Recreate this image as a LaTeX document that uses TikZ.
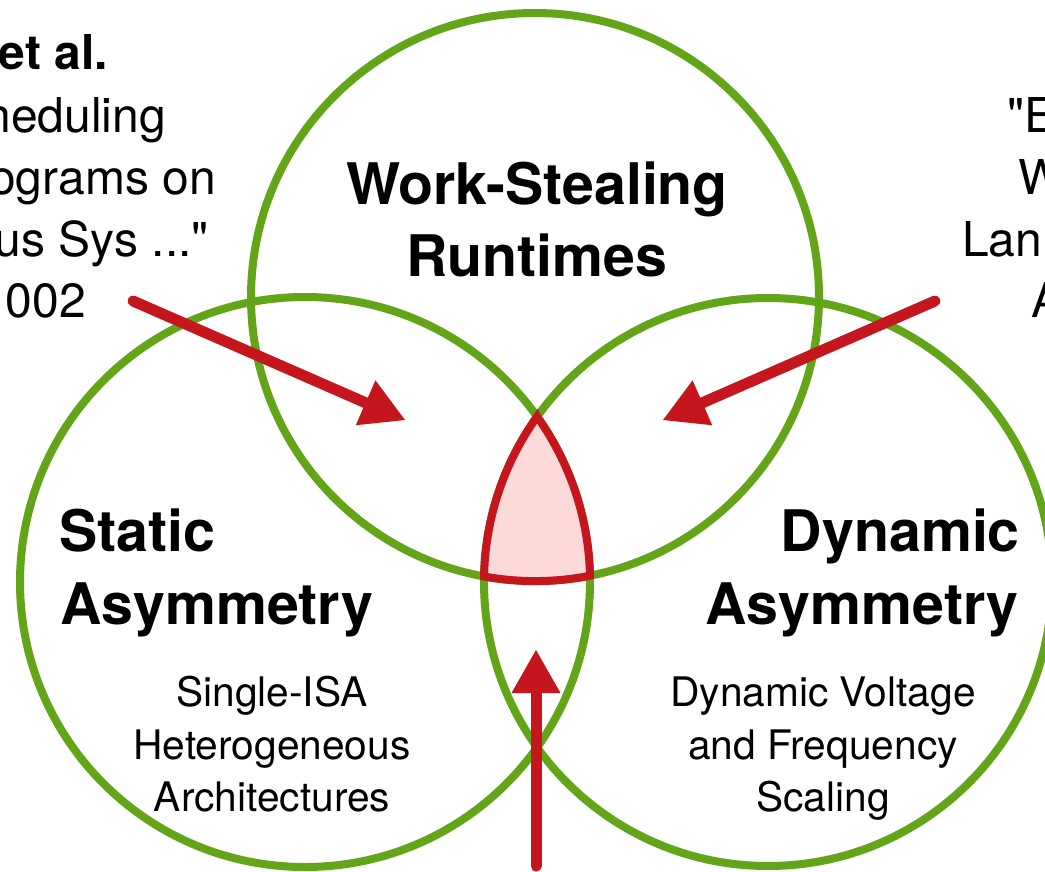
\documentclass[tikz,border=0pt]{standalone}
\usepackage{fontspec}
\setmainfont{TeX Gyre Heros}[Ligatures=TeXOff]
\usetikzlibrary{arrows.meta}
\definecolor{vgreen}{RGB}{98,165,24}
\definecolor{ared}{RGB}{196,22,28}
\definecolor{apink}{RGB}{253,217,218}
\tikzset{
  ring/.style={draw=vgreen, line width=8pt},
  core/.style={draw=ared, fill=apink, line width=8pt, line join=miter},
  pointer/.style={draw=ared, line width=11pt, line cap=round,
    -{Triangle[length=43pt, width=49pt, line width=0pt]}},
  big/.style={font=\fontsize{57.3}{72}\selectfont\bfseries, inner sep=0pt},
  small/.style={font=\fontsize{40.7}{52}\selectfont, inner sep=0pt},
  refbold/.style={font=\fontsize{48}{61}\selectfont\bfseries, inner sep=0pt},
  ref/.style={font=\fontsize{48}{61}\selectfont, inner sep=0pt},
}
\begin{document}
\begin{tikzpicture}[x=1pt, y=-1pt]
  \useasboundingbox (0,0) rectangle (1045,871);
  \fill[white] (0,0) rectangle (1045,871);

  % the three sets
  \draw[ring] (535,297) circle[radius=284];
  \draw[ring] (305,582) circle[radius=285];
  \draw[ring] (768,582) circle[radius=284];

  % common region of all three sets
  \coordinate (tip) at (537.1,416.6);
  \draw[core] (tip)
      arc[start angle=215.6, end angle=181.1, radius=284]
      arc[start angle=100.35, end angle=78.85, radius=284]
      arc[start angle=-1.29, end angle=-35.47, radius=285] -- cycle;

  % set labels
  \node[big, anchor=base] (ws1) at (537,204) {Work-Stealing};
  \node[big, anchor=base] (ws2) at (537,276) {Runtimes};
  \node[big, anchor=base west] (sa1) at (59,551) {Static};
  \node[big, anchor=base west] (sa2) at (60,624) {Asymmetry};
  \node[big, anchor=base east] (da1) at (1020,551) {Dynamic};
  \node[big, anchor=base east] (da2) at (1019,624) {Asymmetry};

  \node[small, anchor=base] (st1) at (272,706) {Single-ISA};
  \node[small, anchor=base] (st2) at (272,759) {Heterogeneous};
  \node[small, anchor=base] (st3) at (272,811) {Architectures};
  \node[small, anchor=base] (dy1) at (823,706) {Dynamic Voltage};
  \node[small, anchor=base] (dy2) at (823,759) {and Frequency};
  \node[small, anchor=base] (dy3) at (823,811) {Scaling};

  % related work, left
  \node[refbold, anchor=base east] (la1) at (108,69) {et al.};
  \node[ref, anchor=base east] (la2) at (166,132) {heduling};
  \node[ref, anchor=base east] (la3) at (216,194) {ograms on};
  \node[ref, anchor=base east] (la4) at (209,256) {us Sys ..."};
  \node[ref, anchor=base east] (la5) at (86,317) {002};

  % related work, right
  \node[ref, anchor=base west] (ra1) at (1007,132) {"E};
  \node[ref, anchor=base west] (ra2) at (1018,194) {W};
  \node[ref, anchor=base west] (ra3) at (962,256) {Lan};
  \node[ref, anchor=base west] (ra4) at (1031,317) {A};

  % pointers into the sets
  \coordinate (p1s) at (133,301);
  \coordinate (p1e) at (405,420);
  \coordinate (p2s) at (935,301);
  \coordinate (p2e) at (663,420);
  \coordinate (p3s) at (536,866);
  \coordinate (p3e) at (536,650);
  \draw[pointer] (p1s) -- (p1e);
  \draw[pointer] (p2s) -- (p2e);
  \draw[pointer] (p3s) -- (p3e);
\end{tikzpicture}
\end{document}
